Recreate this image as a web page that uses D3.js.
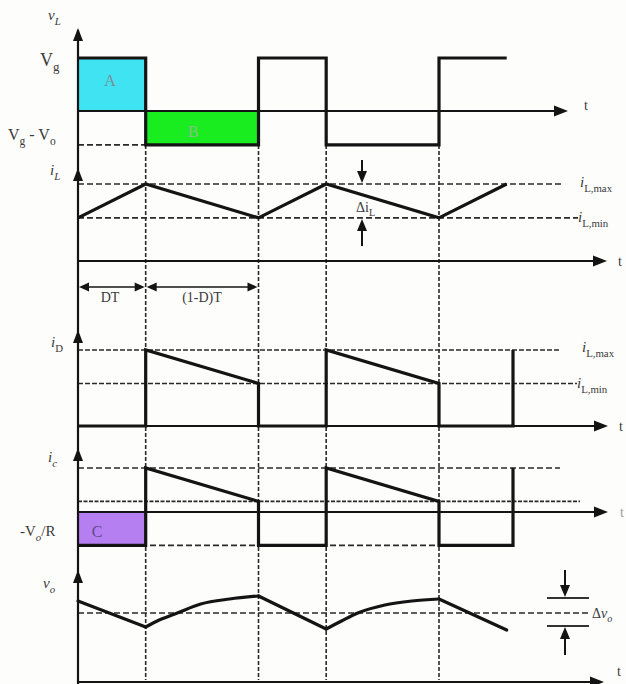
<!DOCTYPE html>
<html>
<head>
<meta charset="utf-8">
<script src="https://cdn.jsdelivr.net/npm/d3@7"></script>
<style>
  html, body { margin: 0; padding: 0; background: #fdfdfb; }
  svg { display: block; }
  text { font-family: "Liberation Serif", "DejaVu Serif", serif; fill: #3a3a3a; }
</style>
</head>
<body>
<svg id="chart" width="626" height="684"></svg>
<script>
// Boost converter waveforms, time in units of the switching period T (D = 0.375)
const D = 0.375;
const switchTimes = [0.375, 1, 1.375, 2];

// inductor voltage: Vg while the switch is on, Vg - Vo while it is off
const Vg = 1;
const VgMinusVo = -0.64;
const vLWave = [[0, 1], [0.375, 1], [0.375, -0.64], [1, -0.64], [1, 1],
                [1.375, 1], [1.375, -0.64], [2, -0.64], [2, 1], [2.375, 1]];

// inductor current (normalised to iL,max)
const iLmax = 1;
const iLmin = 0.56;
const iLWave = [[0, 0.56], [0.375, 1], [1, 0.56], [1.375, 1], [2, 0.56], [2.375, 1]];

// diode current
const iDWave = [[0, 0], [0.375, 0], [0.375, 1], [1, 0.56], [1, 0], [1.375, 0],
                [1.375, 1], [2, 0.56], [2, 0], [2.41, 0], [2.41, 1]];

// capacitor current
const icTop = 0.58;
const icMid = 0.14;
const icLoad = -0.44;   // -Vo/R
const icWave = [[0, -0.44], [0.375, -0.44], [0.375, 0.58], [1, 0.14], [1, -0.44],
                [1.375, -0.44], [1.375, 0.58], [2, 0.14], [2, -0.44], [2.41, -0.44], [2.41, 0.58]];

// output voltage ripple around its mean value
const voWave = [[0, 12], [0.375, -14], [0.45, -7], [0.55, 0], [0.68, 9], [0.84, 14], [1, 17],
                [1.375, -16], [1.46, -8], [1.55, 0], [1.7, 8], [1.85, 12], [2, 14], [2.375, -17]];
const voRippleTop = 15;
const voRippleBottom = -13;

const svg = d3.select("#chart");

const x = d3.scaleLinear().domain([0, 1]).range([78, 258.5]);
const yVL = d3.scaleLinear().domain([0, 1]).range([111, 58]);
const yIL = d3.scaleLinear().domain([0, 1]).range([261, 184]);
const yID = d3.scaleLinear().domain([0, 1]).range([426, 350]);
const yIC = d3.scaleLinear().domain([0, 0.58]).range([512, 468]);
const yVO = d3.scaleLinear().domain([0, 15]).range([613, 598]);

const INK = "#141414";

// ---------- shaded areas ----------
function band(t0, t1, v0, v1, ys, fill) {
  svg.append("rect")
    .attr("x", x(t0)).attr("width", x(t1) - x(t0))
    .attr("y", Math.min(ys(v0), ys(v1))).attr("height", Math.abs(ys(v1) - ys(v0)))
    .attr("fill", fill);
}
band(0, D, 0, Vg, yVL, "#3fe3f2");
band(D, 1, VgMinusVo, 0, yVL, "#19ec1f");
band(0, D, icLoad, 0, yIC, "#b57ff2");

// ---------- dashed reference lines ----------
function dashH(y, x0, x1, dash) {
  svg.append("line").attr("x1", x0).attr("x2", x1).attr("y1", y).attr("y2", y)
    .attr("stroke", "#2a2a2a").attr("stroke-width", 1.6)
    .attr("stroke-dasharray", dash || "6,3");
}
switchTimes.forEach(t => {
  svg.append("line").attr("x1", x(t)).attr("x2", x(t))
    .attr("y1", yVL(VgMinusVo)).attr("y2", 680)
    .attr("stroke", "#2a2a2a").attr("stroke-width", 1.6)
    .attr("stroke-dasharray", "4,2");
});
dashH(yVL(VgMinusVo), x(0), x(D));
dashH(yIL(iLmax), x(0), 562);
dashH(yIL(iLmin), x(0), 578);
dashH(yID(iLmax), x(0), 560, "5,2");
dashH(yID(iLmin), x(0), 577, "5,2");
dashH(yIC(icTop), x(0), 560);
dashH(yIC(icMid), x(0), 580, "4,1.5");
dashH(yIC(icLoad), x(0), x(2.41));
dashH(yVO(0), x(0), 588);

// ---------- axes ----------
function upHead(px, tipY) {
  svg.append("path")
    .attr("d", `M${px},${tipY} L${px - 5},${tipY + 13} L${px + 5},${tipY + 13} Z`)
    .attr("fill", INK);
}
function rightHead(tipX, py) {
  svg.append("path")
    .attr("d", `M${tipX},${py} L${tipX - 14},${py - 5.5} L${tipX - 14},${py + 5.5} Z`)
    .attr("fill", INK);
}
svg.append("line").attr("x1", x(0)).attr("x2", x(0)).attr("y1", 30).attr("y2", 684)
  .attr("stroke", INK).attr("stroke-width", 2.2);
[28, 168, 330, 448, 570].forEach(tip => upHead(x(0), tip));

const timeAxes = [[yVL(0), 568], [yIL(0), 607], [yID(0), 608], [yIC(0), 608], [682, 604]];
timeAxes.forEach(([py, tipX]) => {
  svg.append("line").attr("x1", x(0)).attr("x2", tipX - 6).attr("y1", py).attr("y2", py)
    .attr("stroke", INK).attr("stroke-width", 2);
  rightHead(tipX, py);
});

// ---------- waveforms ----------
function wave(data, ys) {
  svg.append("path")
    .attr("d", d3.line().x(d => x(d[0])).y(d => ys(d[1]))(data))
    .attr("fill", "none").attr("stroke", INK).attr("stroke-width", 3.2)
    .attr("stroke-linejoin", "miter");
}
wave(vLWave, yVL);
wave(iLWave, yIL);
wave(iDWave, yID);
wave(icWave, yIC);

// output voltage: straight discharge while the switch is on, smooth charging while it is off
(function drawVo() {
  const runs = [];
  let run = [voWave[0]];
  for (let i = 1; i < voWave.length; i++) {
    const rising = voWave[i][1] > voWave[i - 1][1];
    const prevRising = run.length > 1 ? run[run.length - 1][1] > run[run.length - 2][1] : rising;
    if (run.length > 1 && rising !== prevRising) {
      runs.push({ pts: run, rising: prevRising });
      run = [voWave[i - 1]];
    }
    run.push(voWave[i]);
  }
  runs.push({ pts: run, rising: run[run.length - 1][1] > run[run.length - 2][1] });
  runs.forEach(r => {
    const gen = d3.line().x(d => x(d[0])).y(d => yVO(d[1]))
      .curve(r.rising ? d3.curveMonotoneX : d3.curveLinear);
    svg.append("path").attr("d", gen(r.pts))
      .attr("fill", "none").attr("stroke", INK).attr("stroke-width", 3.2)
      .attr("stroke-linecap", "round");
  });
})();

// ---------- dimension arrows ----------
function hDim(x0, x1, py) {
  svg.append("line").attr("x1", x0 + 6).attr("x2", x1 - 6).attr("y1", py).attr("y2", py)
    .attr("stroke", INK).attr("stroke-width", 1.6);
  svg.append("path").attr("d", `M${x0 + 1},${py} L${x0 + 11},${py - 4.5} L${x0 + 11},${py + 4.5} Z`).attr("fill", INK);
  svg.append("path").attr("d", `M${x1 - 1},${py} L${x1 - 11},${py - 4.5} L${x1 - 11},${py + 4.5} Z`).attr("fill", INK);
}
hDim(x(0), x(D), 287);
hDim(x(D), x(1), 287);

function vArrow(px, fromY, tipY) {
  const dir = tipY > fromY ? 1 : -1;
  svg.append("line").attr("x1", px).attr("x2", px).attr("y1", fromY).attr("y2", tipY - dir * 8)
    .attr("stroke", INK).attr("stroke-width", 2);
  svg.append("path")
    .attr("d", `M${px},${tipY} L${px - 5},${tipY - dir * 12} L${px + 5},${tipY - dir * 12} Z`)
    .attr("fill", INK);
}
vArrow(362, 160, yIL(iLmax) - 1);
vArrow(362, 246, yIL(iLmin) + 1);

// output ripple marker
[voRippleTop, voRippleBottom].forEach(v => {
  svg.append("line").attr("x1", 547).attr("x2", 589).attr("y1", yVO(v)).attr("y2", yVO(v))
    .attr("stroke", "#333").attr("stroke-width", 2);
});
vArrow(565, 570, yVO(voRippleTop) - 1);
vArrow(565, 655, yVO(voRippleBottom) + 1);

// ---------- labels ----------
function label(parts, px, py, size, opts = {}) {
  const t = svg.append("text").attr("x", px).attr("y", py)
    .attr("font-size", size).attr("text-anchor", opts.anchor || "start");
  if (opts.fill) t.style("fill", opts.fill);
  let shifted = false;
  parts.forEach(p => {
    const s = t.append("tspan").text(p.t);
    if (p.it) s.attr("font-style", "italic");
    if (p.sub && !shifted) { s.attr("dy", size * 0.3).attr("font-size", size * 0.72); shifted = true; }
    else if (p.sub) { s.attr("font-size", size * 0.72); }
    else if (!p.sub && shifted) { s.attr("dy", -size * 0.3); shifted = false; }
  });
}
const it = true, sub = true;
label([{ t: "v", it }, { t: "L", it, sub }], 48, 20, 15);
label([{ t: "V" }, { t: "g", sub }], 40, 66, 18);
label([{ t: "V" }, { t: "g", sub }, { t: " - V" }, { t: "o", sub }], 8, 140, 16);
label([{ t: "A" }], 110, 86, 16, { anchor: "middle", fill: "#7d8d96" });
label([{ t: "B" }], 193, 137, 16, { anchor: "middle", fill: "#8cbc8c" });
label([{ t: "t" }], 584, 110, 14);

label([{ t: "i", it }, { t: "L", it, sub }], 50, 175, 15);
label([{ t: "i", it }, { t: "L,max", sub }], 580, 187, 15);
label([{ t: "i", it }, { t: "L,min", sub }], 578, 222, 15);
label([{ t: "Δi" }, { t: "L", sub }], 356, 212, 14);
label([{ t: "t" }], 618, 266, 14);
label([{ t: "DT" }], 110, 302, 14, { anchor: "middle" });
label([{ t: "(1-D)T" }], 202, 302, 14, { anchor: "middle" });

label([{ t: "i", it }, { t: "D", sub }], 51, 347, 15);
label([{ t: "i", it }, { t: "L,max", sub }], 582, 352, 15);
label([{ t: "i", it }, { t: "L,min", sub }], 577, 388, 15);
label([{ t: "t" }], 619, 431, 14);

label([{ t: "i", it }, { t: "c", it, sub }], 48, 462, 15);
label([{ t: "-V" }, { t: "o", it, sub }, { t: "/R" }], 20, 536, 15);
label([{ t: "C" }], 97, 537, 16, { anchor: "middle", fill: "#5e4a86" });
label([{ t: "t" }], 620, 517, 14, { fill: "#9a9a9a" });

label([{ t: "v", it }, { t: "o", it, sub }], 43, 588, 15);
label([{ t: "Δ" }, { t: "v", it }, { t: "o", it, sub }], 592, 618, 14);
label([{ t: "t" }], 617, 676, 14);
</script>
</body>
</html>
